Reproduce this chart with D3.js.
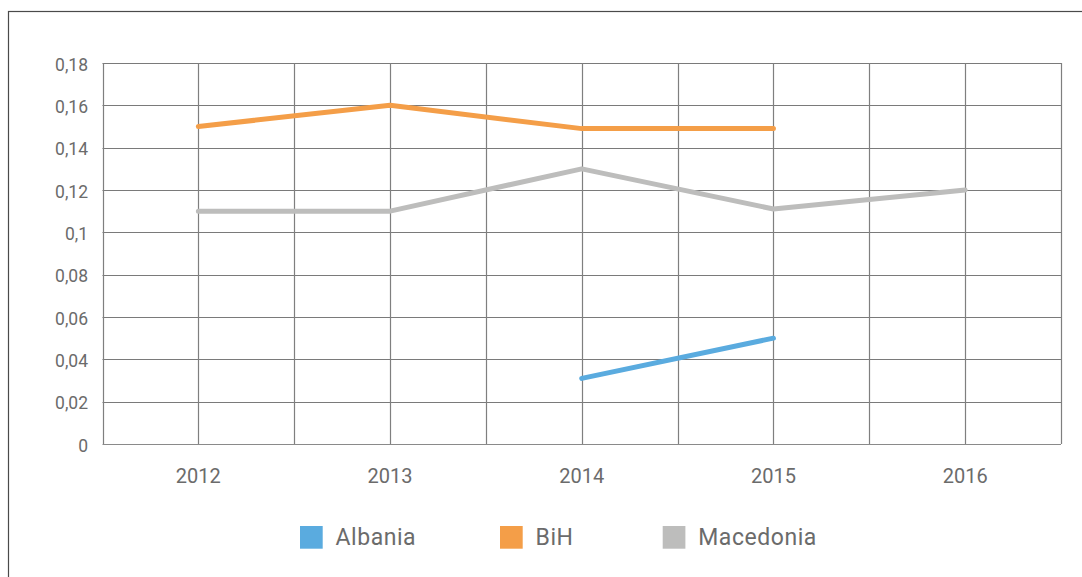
<!DOCTYPE html>
<html><head><meta charset="utf-8">
<script src="https://cdn.jsdelivr.net/npm/d3@7"></script>
<style>
html,body{margin:0;padding:0;background:#fff;}
svg{display:block;font-family:Roboto, "Open Sans", sans-serif;}
</style></head>
<body><svg id="chart" width="1082" height="577"></svg>
<script>
const years = ["2012","2013","2014","2015","2016"];
const albania = [null, null, 0.031, 0.05, null];
const bih = [0.15, 0.16, 0.149, 0.149, null];
const macedonia = [0.11, 0.11, 0.13, 0.111, 0.12];
const seriesNames = ["Albania","BiH","Macedonia"];
const seriesColors = ["#5aabdf","#f49e48","#bdbdbc"];
const yTicks = [0,0.02,0.04,0.06,0.08,0.1,0.12,0.14,0.16,0.18];
const yTickLabels = ["0","0,02","0,04","0,06","0,08","0,1","0,12","0,14","0,16","0,18"];

const svg = d3.select("#chart");
const L = 102.5, R = 1061, T = 63, B = 444;

// outer frame
svg.append("rect").attr("x",8.5).attr("y",11.5).attr("width",1200).attr("height",700)
  .attr("fill","none").attr("stroke","#4a4a4a").attr("stroke-width",1.2);

const x = d3.scaleBand().domain(years).range([L,R]).padding(0);
const y = d3.scaleLinear().domain([0,0.18]).range([B,T]);

const grid = svg.append("g");
yTicks.forEach(v=>{
  const yy = Math.round(y(v))+0.5;
  grid.append("line").attr("x1",L).attr("x2",R).attr("y1",yy).attr("y2",yy)
    .attr("stroke", v===0 ? "#8a8a8a" : "#7a7a7a").attr("stroke-width",1.2);
});
const vx = [];
years.forEach(yr=>{ vx.push(x(yr)); vx.push(x(yr)+x.bandwidth()/2); });
vx.push(R);
vx.forEach(xx=>{
  const px = Math.round(xx)+0.5;
  grid.append("line").attr("x1",px).attr("x2",px).attr("y1",T).attr("y2",B)
    .attr("stroke","#7f7f7f").attr("stroke-width",1.2);
});

const yAxis = d3.axisLeft(y).tickValues(yTicks).tickSize(0).tickPadding(0)
  .tickFormat((d,i)=>yTickLabels[i]);
const gy = svg.append("g").attr("transform",`translate(${L-14.5},0)`).call(yAxis);
gy.select(".domain").remove();
gy.selectAll("text").attr("fill","#6b6b6b").style("font-size","17.5px")
  .style("font-family","Roboto, sans-serif").attr("dy","0.4em");

const xAxis = d3.axisBottom(x).tickSize(0).tickPadding(0);
const gx = svg.append("g").attr("transform",`translate(0,${B})`).call(xAxis);
gx.select(".domain").remove();
gx.selectAll("text").attr("fill","#6b6b6b").style("font-size","20px")
  .style("font-family","Roboto, sans-serif").attr("dy","1.95em");

const allSeries = [albania,bih,macedonia];
const line = d3.line()
  .defined(d=>d.v!==null)
  .x(d=>x(d.yr)+x.bandwidth()/2)
  .y(d=>y(d.v));
allSeries.forEach((s,i)=>{
  svg.append("path").datum(years.map((yr,j)=>({yr,v:s[j]})))
    .attr("d",line).attr("fill","none").attr("stroke",seriesColors[i])
    .attr("stroke-width",5).attr("stroke-linecap","round").attr("stroke-linejoin","round");
});

const legX = [300, 500, 662.7];
const lg = svg.append("g");
seriesNames.forEach((n,i)=>{
  lg.append("rect").attr("x",legX[i]).attr("y",526).attr("width",22.7).attr("height",22.7)
    .attr("fill",seriesColors[i]);
  lg.append("text").attr("x",legX[i]+35.5).attr("y",545.3).text(n)
    .attr("fill","#6b6b6b").style("font-size","23px").style("letter-spacing","0.55px")
    .style("font-family","Roboto, sans-serif");
});
</script></body></html>
